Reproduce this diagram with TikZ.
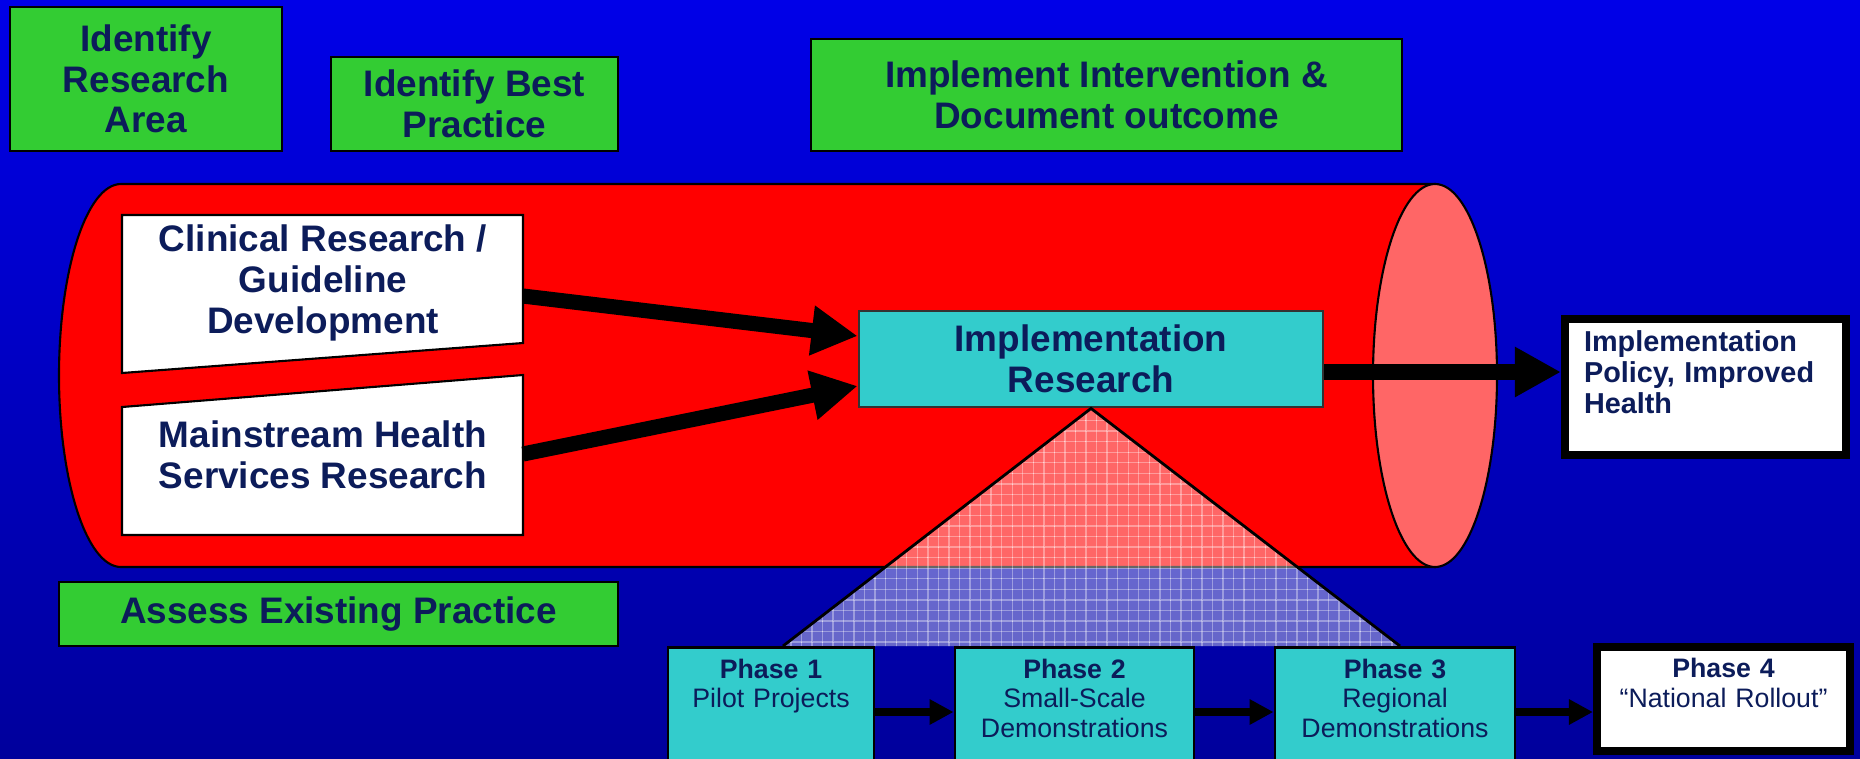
\documentclass[tikz,border=0pt]{standalone}
\usepackage{fontspec}
\setmainfont{Liberation Sans}
\usepackage{xcolor}
\definecolor{BgTop}{HTML}{0000E8}
\definecolor{BgBottom}{HTML}{00009C}
\definecolor{TaskGreen}{HTML}{33CC33}
\definecolor{CoreCyan}{HTML}{33CCCC}
\definecolor{PipeRed}{HTML}{FF0000}
\definecolor{PipeEnd}{HTML}{FF6666}
\definecolor{TextNavy}{HTML}{0C1C5A}
\usetikzlibrary{calc,arrows.meta,patterns}

\begin{document}
\begin{tikzpicture}[
        task/.style={rectangle, draw=black, line width=0.8pt, fill=TaskGreen, align=center, inner sep=0pt, text=TextNavy, font=\bfseries\fontsize{10.5}{11.6}\selectfont},
        source/.style={align=center, text=TextNavy, font=\bfseries\fontsize{10.5}{11.6}\selectfont},
        core/.style={rectangle, draw=black!80, line width=0.8pt, fill=CoreCyan, align=center, inner sep=0pt, text=TextNavy, font=\bfseries\fontsize{10.5}{11.6}\selectfont},
        outcome/.style={rectangle, draw=black, line width=2.3pt, fill=white, align=left, anchor=north, inner xsep=0.19cm, inner ysep=2pt, text=TextNavy, font=\bfseries\fontsize{8.2}{8.9}\selectfont},
        phasebox/.style={rectangle, draw=black, line width=0.8pt, fill=CoreCyan, align=center, anchor=north, inner xsep=2pt, inner ysep=2pt, text height=6.8pt, text depth=1.3cm, text=TextNavy, font=\fontsize{7.6}{8.4}\selectfont},
        link/.style={-{Triangle[length=4.6mm, width=4.7mm]}, line width=4.3pt, black},
        steplink/.style={-{Triangle[length=2.4mm, width=2.4mm]}, line width=2.3pt, black}
    ]
        \useasboundingbox (0,0) rectangle (18.6,7.58);
        \clip (0,0) rectangle (18.6,7.58);
        \shade[top color=BgTop, bottom color=BgBottom] (0,0) rectangle (18.6,7.58);

        % Steps on top
        \node[task, minimum width=2.72cm, minimum height=1.44cm] (area) at (1.46,6.79) {Identify\\Research\\Area};
        \node[task, minimum width=2.87cm, minimum height=0.94cm] (best) at (4.745,6.54) {Identify Best\\Practice};
        \node[task, minimum width=5.91cm, minimum height=1.12cm] (intervene) at (11.065,6.63) {Implement Intervention \&\\Document outcome};

        % Pipeline
        \draw[line width=0.6pt, fill=PipeRed] (14.35,5.74) -- (1.21,5.74)
            arc[start angle=90, end angle=270, x radius=0.62, y radius=1.915] -- (14.35,1.91) -- cycle;
        \draw[line width=0.6pt, fill=PipeEnd] (14.35,3.825) ellipse[x radius=0.62, y radius=1.915];

        % Sources
        \draw[line width=0.6pt, fill=white] (1.22,5.43) -- (5.23,5.43) -- (5.23,4.15) -- (1.22,3.85) -- cycle;
        \draw[line width=0.6pt, fill=white] (1.22,3.51) -- (5.23,3.83) -- (5.23,2.23) -- (1.22,2.23) -- cycle;
        \node[source] (clinical) at (3.23,4.75) {Clinical Research /\\Guideline\\Development};
        \node[source] (mainstream) at (3.23,3.03) {Mainstream Health\\Services Research};
        \coordinate (clinout) at (5.23,4.62);
        \coordinate (mainout) at (5.23,3.04);

        \node[core, minimum width=4.64cm, minimum height=0.96cm] (impl) at (10.91,3.99) {Implementation\\Research};

        % Flows
        \draw[link] (clinout) -- ($(impl.west)+(0,0.23)$);
        \draw[link] (mainout) -- ($(impl.west)+(0,-0.27)$);

        % Pyramid
        \coordinate (pyrL) at (7.83,1.12);
        \coordinate (pyrR) at (14.00,1.12);
        \fill[white, fill opacity=0.4] (pyrL) -- (impl.south) -- (pyrR) -- cycle;
        \fill[pattern=grid, pattern color=white, opacity=0.35] (pyrL) -- (impl.south) -- (pyrR) -- cycle;
        \draw[line width=0.8pt] (pyrL) -- (impl.south) -- (pyrR);

        \node[outcome, text width=2.43cm, text height=7.1pt, text depth=0.97cm] (result) at (17.055,4.43) {Implementation\\Policy, Improved\\Health};
        \coordinate (outrow) at (0,3.86);
        \draw[link] (impl.east |- outrow) -- (result.west |- outrow);

        \node[task, minimum width=5.59cm, minimum height=0.64cm] (assess) at (3.385,1.44) {Assess Existing Practice};

        % Phases
        \node[phasebox, text width=1.92cm] (p1) at (7.71,1.12) {\textbf{Phase 1}\\Pilot Projects};
        \node[phasebox, text width=2.25cm] (p2) at (10.745,1.12) {\textbf{Phase 2}\\Small-Scale\\Demonstrations};
        \node[phasebox, text width=2.26cm] (p3) at (13.95,1.12) {\textbf{Phase 3}\\Regional\\Demonstrations};
        \node[phasebox, fill=white, line width=2.3pt, text width=2.39cm, text depth=0.66cm] (p4) at (17.235,1.15) {\textbf{Phase 4}\\“National Rollout”};

        \coordinate (row) at (0,0.46);
        \draw[steplink] (p1.east |- row) -- (p2.west |- row);
        \draw[steplink] (p2.east |- row) -- (p3.west |- row);
        \draw[steplink] (p3.east |- row) -- (p4.west |- row);

    \end{tikzpicture}
\end{document}
